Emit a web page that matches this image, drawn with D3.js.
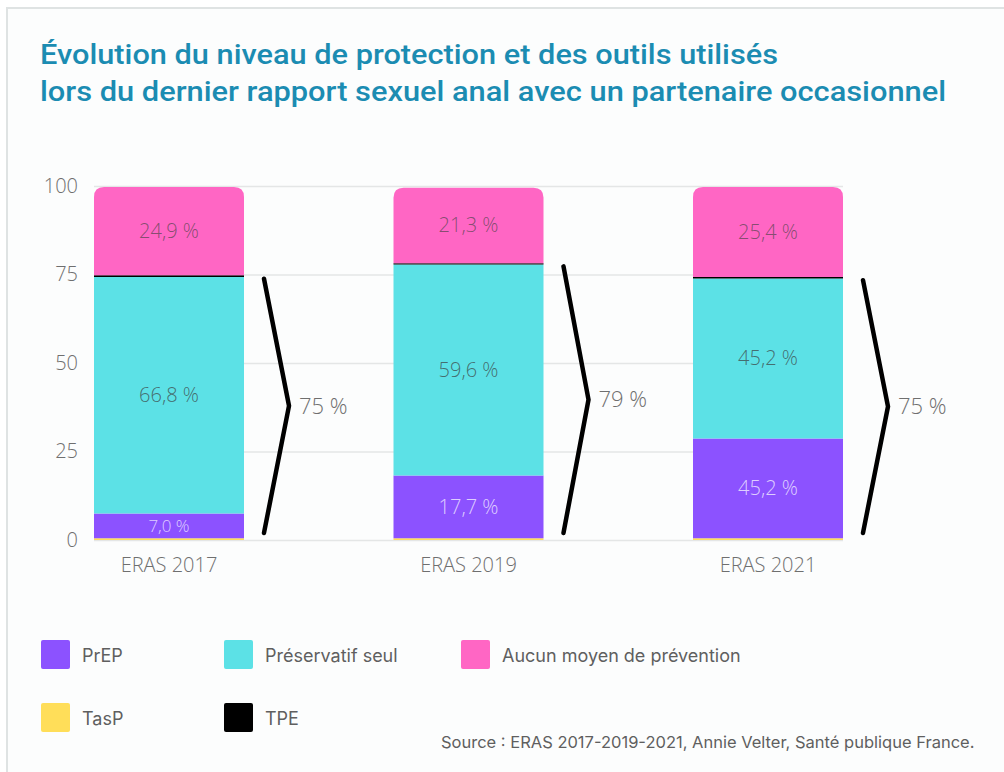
<!DOCTYPE html>
<html lang="fr">
<head>
<meta charset="UTF-8">
<title>ERAS</title>
<script src="https://cdn.jsdelivr.net/npm/d3@7"></script>
<style>
body { margin: 0; background: #fff; }
svg { display: block; }
.tick line { stroke: #e4e6e6; stroke-width: 1.5px; }
.tick text { font-family: "Open Sans", sans-serif; font-weight: 300; font-size: 20px; fill: #6f6f6f; }
</style>
</head>
<body>
<svg width="1004" height="772"></svg>
<script>
// données
var years = ["ERAS 2017", "ERAS 2019", "ERAS 2021"];
var keys = ["TasP", "PrEP", "Préservatif seul", "TPE", "Aucun moyen de prévention"];
var tasp = [0.5, 0.5, 0.5];
var prep = [7.0, 17.7, 28.2];
var preservatif = [66.8, 59.6, 45.2];
var tpe = [0.5, 0.4, 0.4];
var aucun = [24.9, 21.3, 25.4];
var prepLabels = ["7,0 %", "17,7 %", "45,2 %"];
var preservatifLabels = ["66,8 %", "59,6 %", "45,2 %"];
var aucunLabels = ["24,9 %", "21,3 %", "25,4 %"];
var totalLabels = ["75 %", "79 %", "75 %"];
var yTicks = [0, 25, 50, 75, 100];
var colors = ["#ffde59", "#8c52ff", "#5ce1e6", "#000000", "#ff66c4"];

var data = years.map(function(y, i) {
	return { year: y, "TasP": tasp[i], "PrEP": prep[i], "Préservatif seul": preservatif[i],
		"TPE": tpe[i], "Aucun moyen de prévention": aucun[i] };
});

var svg = d3.select("svg");

// cadre
svg.append("rect").attr("x", 7).attr("y", 8).attr("width", 1010).attr("height", 780)
	.attr("fill", "#fcfdfd").attr("stroke", "#dfe3e3").attr("stroke-width", 2);

// titre
var title = ["Évolution du niveau de protection et des outils utilisés",
	"lors du dernier rapport sexuel anal avec un partenaire occasionnel"];
var titleW = [738, 906];
svg.selectAll(".title").data(title).enter().append("text")
	.attr("class", "title")
	.attr("x", 40)
	.attr("y", function(d, i) { return 64 + i * 37; })
	.attr("textLength", function(d, i) { return titleW[i]; })
	.attr("lengthAdjust", "spacingAndGlyphs")
	.style("font-family", "Roboto, sans-serif")
	.style("font-weight", 500)
	.style("font-size", "27px")
	.style("fill", "#1b8cb2")
	.text(function(d) { return d; });

var left = 94, right = 843, barW = 150;
var x = d3.scalePoint().domain(years).range([169, 768]);
var y = d3.scaleLinear().domain([0, 100]).range([540, 186]);

var g = svg.append("g");

g.append("g")
	.attr("transform", "translate(" + left + ",0)")
	.call(d3.axisLeft(y).tickValues(yTicks).tickSize(-(right - left)).tickPadding(16))
	.call(function(a) { a.select(".domain").remove(); });

var stack = d3.stack().keys(keys)(data);

function topRounded(x0, y0, w, h, r) {
	return "M" + x0 + "," + (y0 + h) + "V" + (y0 + r) +
		"Q" + x0 + "," + y0 + " " + (x0 + r) + "," + y0 +
		"H" + (x0 + w - r) +
		"Q" + (x0 + w) + "," + y0 + " " + (x0 + w) + "," + (y0 + r) +
		"V" + (y0 + h) + "Z";
}

stack.forEach(function(layer, k) {
	g.selectAll(".s" + k).data(layer).enter().append("path")
		.attr("fill", colors[k])
		.attr("d", function(d) {
			var x0 = x(d.data.year) - barW / 2, y0 = y(d[1]), h = y(d[0]) - y(d[1]);
			var r = k === keys.length - 1 ? 10 : 0;
			return topRounded(x0, y0, barW, h, r);
		});
});

// étiquettes dans les barres
function segLabels(layerIdx, labels, fill, op, sizeFn) {
	g.selectAll(".l" + layerIdx).data(stack[layerIdx]).enter().append("text")
		.attr("x", function(d) { return x(d.data.year); })
		.attr("y", function(d) { return (y(d[0]) + y(d[1])) / 2; })
		.attr("dy", "0.35em")
		.attr("text-anchor", "middle")
		.style("font-family", "Open Sans, sans-serif")
		.style("font-weight", 300)
		.style("font-size", function(d, i) { return sizeFn(d, i) + "px"; })
		.style("fill", fill)
		.style("fill-opacity", op)
		.text(function(d, i) { return labels[i]; });
}
segLabels(1, prepLabels, "#ffffff", 0.72, function(d) { return (d[1] - d[0]) < 10 ? 17 : 20; });
segLabels(2, preservatifLabels, "#3f4f50", 0.8, function() { return 20; });
segLabels(4, aucunLabels, "#404040", 0.65, function() { return 20; });

// axe x
g.selectAll(".xl").data(years).enter().append("text")
	.attr("x", function(d) { return x(d); })
	.attr("y", 572)
	.attr("text-anchor", "middle")
	.style("font-family", "Open Sans, sans-serif")
	.style("font-weight", 300)
	.style("font-size", "20px")
	.style("fill", "#6f6f6f")
	.text(function(d) { return d; });

// accolades
var brackets = data.map(function(d, i) {
	return { top: stack[2][i][1] - 0.5, bottom: 2, year: d.year, label: totalLabels[i] };
});
var bg = g.selectAll(".br").data(brackets).enter().append("g");
bg.append("path")
	.attr("fill", "none")
	.attr("stroke", "#000")
	.attr("stroke-width", 4.5)
	.attr("stroke-linecap", "round")
	.attr("stroke-linejoin", "miter")
	.attr("d", function(d) {
		var x0 = x(d.year) + barW / 2 + 20;
		var yt = y(d.top), yb = y(d.bottom);
		return "M" + x0 + "," + yt + "L" + (x0 + 25) + "," + ((yt + yb) / 2) + "L" + x0 + "," + yb;
	});
bg.append("text")
	.attr("x", function(d) { return x(d.year) + barW / 2 + 55; })
	.attr("y", function(d) { return (y(d.top) + y(d.bottom)) / 2; })
	.attr("dy", "0.35em")
	.style("font-family", "Open Sans, sans-serif")
	.style("font-weight", 300)
	.style("font-size", "22px")
	.style("fill", "#6f6f6f")
	.text(function(d) { return d.label; });

// légende
var legend = [
	{ key: "PrEP", c: 1, x: 41, y: 640 },
	{ key: "Préservatif seul", c: 2, x: 224, y: 640 },
	{ key: "Aucun moyen de prévention", c: 4, x: 461, y: 640 },
	{ key: "TasP", c: 0, x: 41, y: 703 },
	{ key: "TPE", c: 3, x: 224, y: 703 }
];
var lg = svg.selectAll(".lg").data(legend).enter().append("g");
lg.append("rect")
	.attr("x", function(d) { return d.x; })
	.attr("y", function(d) { return d.y; })
	.attr("width", 29).attr("height", 29).attr("rx", 2)
	.attr("fill", function(d) { return colors[d.c]; });
lg.append("text")
	.attr("x", function(d) { return d.x + 41; })
	.attr("y", function(d) { return d.y + 22; })
	.style("font-family", "Inter, sans-serif")
	.style("font-size", "18px")
	.style("fill", "#5f5f5f")
	.text(function(d) { return d.key; });

svg.append("text")
	.attr("x", 441).attr("y", 748)
	.style("font-family", "Inter, sans-serif")
	.style("font-size", "16.5px")
	.style("fill", "#5f5f5f")
	.text("Source : ERAS 2017-2019-2021, Annie Velter, Santé publique France.");
</script>
</body>
</html>
